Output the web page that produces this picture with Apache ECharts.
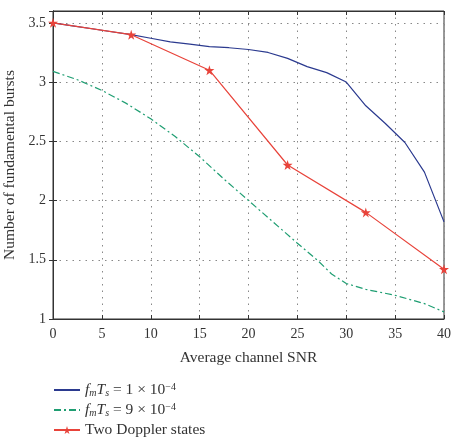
<!DOCTYPE html>
<html>
<head>
<meta charset="utf-8">
<script src="https://cdn.jsdelivr.net/npm/echarts@6/dist/echarts.min.js"></script>
<style>
html, body { margin: 0; padding: 0; background: #fff; }
#main { width: 451px; height: 442px; }
</style>
</head>
<body>
<div id="main"></div>
<script>
// values
var snrLow = [0, 2, 4, 6, 8, 10, 12, 14, 16, 18, 20, 22, 24, 26, 28, 30, 32, 34, 36, 38, 40];
var burstsLow = [3.5, 3.475, 3.45, 3.425, 3.4, 3.37, 3.34, 3.32, 3.30, 3.29, 3.275, 3.25, 3.20, 3.13, 3.08, 3.0, 2.80, 2.65, 2.49, 2.24, 1.82];
var snrHigh = [0, 2.5, 5, 7.5, 10, 12.5, 15, 17.5, 20, 22.5, 25, 27, 28.5, 30, 32, 35, 38, 40];
var burstsHigh = [3.09, 3.02, 2.93, 2.82, 2.69, 2.54, 2.37, 2.18, 2.0, 1.82, 1.64, 1.50, 1.38, 1.30, 1.25, 1.20, 1.13, 1.06];
var snrTwo = [0, 8, 16, 24, 32, 40];
var burstsTwo = [3.5, 3.4, 3.1, 2.3, 1.9, 1.42];

function pairs(xs, ys) {
    return xs.map(function (x, i) { return [x, ys[i]]; });
}

var serif = '"Liberation Serif", "DejaVu Serif", serif';
var star = 'path://M50,0 L61,35 L98,35 L68,57 L79,91 L50,70 L21,91 L32,57 L2,35 L39,35 Z';

var myChart = echarts.init(document.getElementById('main'));

var gridLine = { show: true, lineStyle: { color: '#888', type: [1.5, 5], width: 1 } };
var boxLine = { show: true, lineStyle: { color: '#333', width: 1 } };
var tick = { show: true, inside: true, length: 4, lineStyle: { color: '#333' } };

myChart.setOption({
    animation: false,
    textStyle: { fontFamily: serif },
    grid: {
        left: 53, right: 7, top: 11, bottom: 123,
        outerBoundsMode: 'none', containLabel: false,
        show: true, borderColor: '#333', borderWidth: 1
    },
    xAxis: [{
        type: 'value', min: 0, max: 40, interval: 5,
        name: 'Average channel SNR', nameLocation: 'middle', nameGap: 31,
        nameTextStyle: { fontFamily: serif, fontSize: 15.5, color: '#333' },
        axisLine: boxLine,
        axisTick: tick,
        axisLabel: { fontFamily: serif, fontSize: 14, color: '#333', margin: 8 },
        splitLine: gridLine
    }, {
        type: 'value', min: 0, max: 40, interval: 5, position: 'top',
        axisLine: boxLine, axisTick: tick,
        axisLabel: { show: false }, splitLine: { show: false }
    }],
    yAxis: [{
        type: 'value', min: 1, max: 3.6, interval: 0.5,
        name: 'Number of fundamental bursts', nameLocation: 'middle', nameGap: 35,
        nameTextStyle: { fontFamily: serif, fontSize: 15.5, color: '#333' },
        axisLine: boxLine,
        axisTick: tick,
        axisLabel: { fontFamily: serif, fontSize: 14, color: '#333', margin: 7, showMaxLabel: false },
        splitLine: gridLine
    }, {
        type: 'value', min: 1, max: 3.6, interval: 0.5, position: 'right',
        axisLine: boxLine, axisTick: tick,
        axisLabel: { show: false }, splitLine: { show: false }
    }],
    legend: {
        orient: 'vertical', left: 53, top: 382, height: 80, itemGap: 4, padding: 0,
        itemWidth: 26, itemHeight: 10,
        textStyle: {
            fontFamily: serif, fontSize: 15.5, color: '#333',
            rich: {
                i: { fontFamily: serif, fontStyle: 'italic', fontSize: 15.5, color: '#333' },
                sub: { fontFamily: serif, fontStyle: 'italic', fontSize: 10, color: '#333', verticalAlign: 'bottom', padding: [6, 0, 0, 0] },
                sup: { fontFamily: serif, fontSize: 10, color: '#333', verticalAlign: 'top', padding: [0, 0, 6, 0] },
                n: { fontFamily: serif, fontSize: 15.5, color: '#333' }
            }
        },
        formatter: function (name) {
            if (name === 'low') return '{i|f}{sub|m}{i|T}{sub|s}{n| = 1 × 10}{sup|−4}';
            if (name === 'high') return '{i|f}{sub|m}{i|T}{sub|s}{n| = 9 × 10}{sup|−4}';
            return name;
        },
        data: [
            { name: 'low', itemStyle: { opacity: 0 } },
            { name: 'high', itemStyle: { opacity: 0 } },
            'Two Doppler states'
        ]
    },
    series: [{
        name: 'low', type: 'line', showSymbol: false, symbol: 'none',
        data: pairs(snrLow, burstsLow),
        lineStyle: { color: '#2b3a8f', width: 1.2 },
        itemStyle: { color: '#2b3a8f' }
    }, {
        name: 'high', type: 'line', showSymbol: false, symbol: 'none',
        data: pairs(snrHigh, burstsHigh),
        lineStyle: { color: '#1f9e72', width: 1.2, type: [7, 3, 2, 3] },
        itemStyle: { color: '#1f9e72' }
    }, {
        name: 'Two Doppler states', type: 'line', symbol: star, symbolSize: 10,
        data: pairs(snrTwo, burstsTwo),
        lineStyle: { color: '#e8433a', width: 1.2 },
        itemStyle: { color: '#e8433a' },
        z: 3
    }]
});
</script>
</body>
</html>
